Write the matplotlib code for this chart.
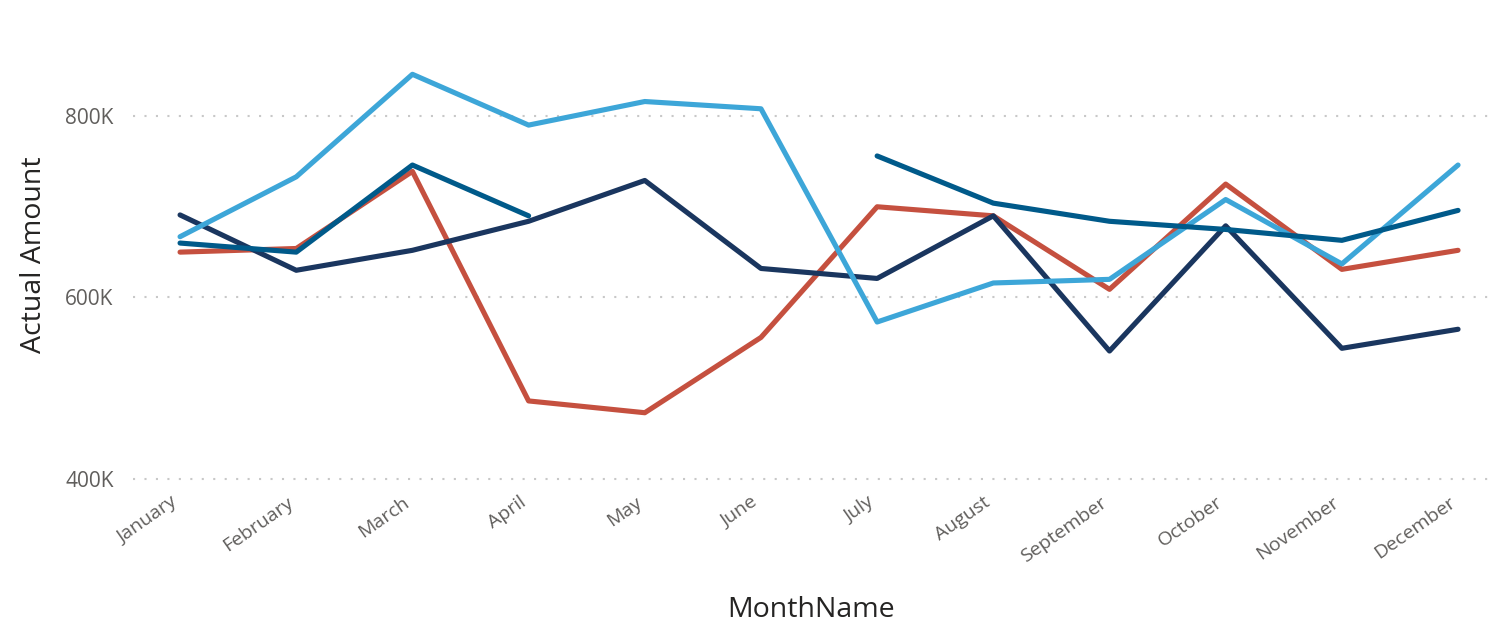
import numpy as np
import matplotlib
matplotlib.use("Agg")
import matplotlib.pyplot as plt
import matplotlib.transforms as mtransforms

months = ["January", "February", "March", "April", "May", "June", "July",
          "August", "September", "October", "November", "December"]

# values in thousands
series_red = [650, 654, 739, 486, 473, 556, 700, 690, 609, 725, 631, 652]
series_navy = [691, 630, 652, 684, 729, 632, 621, 690, 541, 679, 544, 565]
series_light = [667, 733, 846, 790, 816, 808, 573, 616, 620, 708, 637, 746]
series_mid = [660, 650, 746, 690, np.nan, np.nan, 756, 704, 684, 675, 663, 696]

y_ticks = [400, 600, 800]
y_tick_labels = ["400K", "600K", "800K"]

colors = {"red": "#C5503F", "navy": "#1A365F", "light": "#3DA6D8", "mid": "#005A8A"}

plt.rcParams['font.family'] = ['Open Sans', 'DejaVu Sans']

W, H = 1492, 626
fig = plt.figure(figsize=(W / 100, H / 100), dpi=100)

# axes placement in pixels
x_left_px, x_right_px = 133, 1490
y_bottom_px = 483.5
y_top_px = 25.3
ax = fig.add_axes([x_left_px / W, 1 - y_bottom_px / H,
                   (x_right_px - x_left_px) / W, (y_bottom_px - y_top_px) / H])

x = np.arange(len(months))
lw = 3.7
for vals, key, z in [(series_red, "red", 2), (series_navy, "navy", 3),
                     (series_light, "light", 4), (series_mid, "mid", 5)]:
    ax.plot(x, vals, color=colors[key], lw=lw, solid_capstyle='round',
            solid_joinstyle='round', zorder=z)

ax.set_xlim(-0.405, 11.275)
ax.set_ylim(395, 900)

for yt in y_ticks:
    ax.axhline(yt, color="#C8C8C8", lw=1.5, linestyle=(0, (1, 4.5)), zorder=1)

ax.set_yticks(y_ticks)
ax.set_yticklabels(y_tick_labels, fontsize=15, color="#605E5C")
ax.set_xticks(x)
ax.set_xticklabels(months, fontsize=14, color="#605E5C", rotation=35,
                   ha='right', rotation_mode='anchor')
ax.tick_params(axis='both', length=0)
ax.tick_params(axis='y', pad=14)
ax.tick_params(axis='x', pad=7)

shift = mtransforms.ScaledTranslation(-10 / 100, 0, fig.dpi_scale_trans)
for lab in ax.get_xticklabels():
    lab.set_transform(lab.get_transform() + shift)

for s in ax.spines.values():
    s.set_visible(False)

ax.set_ylabel("Actual Amount", fontsize=20.5, color="#252423", labelpad=12)
ax.set_xlabel("MonthName", fontsize=20.5, color="#252423", labelpad=22)

fig.savefig("out.png", dpi=100)
